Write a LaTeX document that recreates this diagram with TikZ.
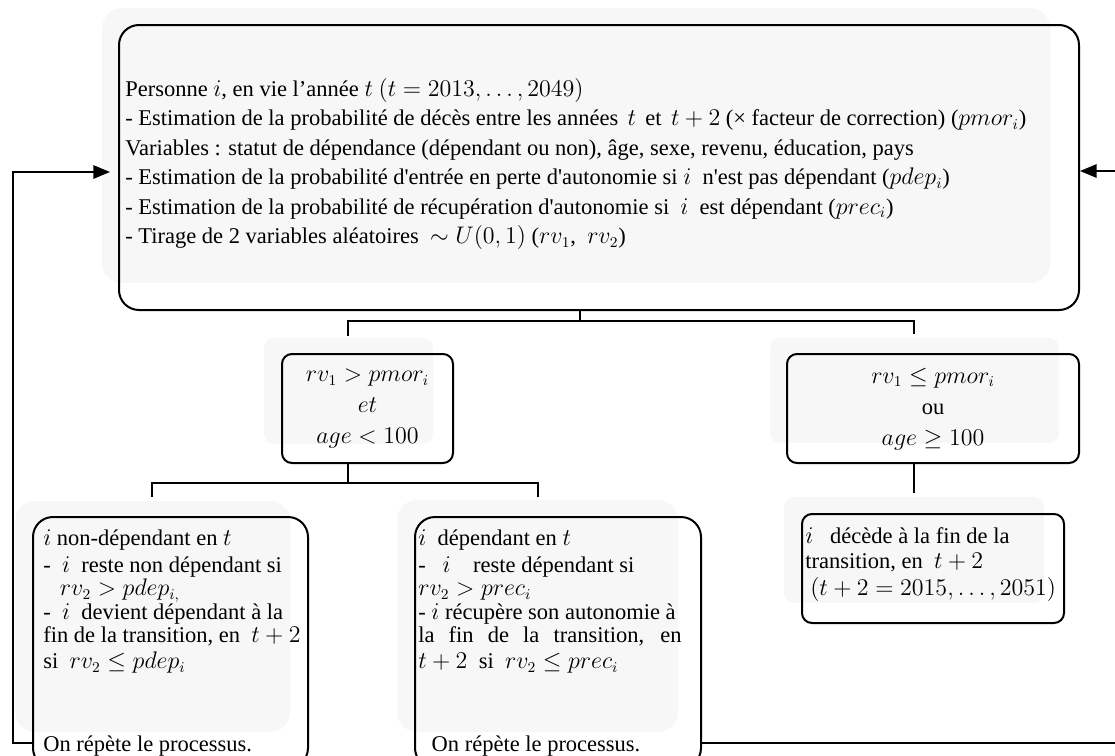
\documentclass[tikz,border=0pt]{standalone}
\usepackage{amssymb}
\usepackage{amsmath}
\usepackage{fontspec}
\setmainfont{Liberation Serif}
\usetikzlibrary{positioning,arrows.meta,fit}

\newcommand{\noskip}{\setlength{\lineskiplimit}{-20pt}}
\newcommand{\sq}{\textquotesingle}
\tikzset{
  box/.style={draw=black,line width=1.2pt,rounded corners=12pt,inner sep=0pt},
  smallbox/.style={box,rounded corners=6pt},
  ghost/.style={fill=black!3,rounded corners=12pt},
  txt/.style={inner sep=0pt,align=left,font=\fontsize{13.5}{15.5}\selectfont\noskip},
  tight/.style={txt,font=\fontsize{13.5}{14}\selectfont\noskip},
  conn/.style={line width=1.2pt},
  back/.style={conn,-{Triangle[length=10pt,width=8pt]}},
}

\begin{document}
\begin{tikzpicture}[x=0.6pt,y=-0.6pt]
\useasboundingbox (0,0) rectangle (1115,756);
% grey shadows
\fill[ghost] (102,8) rectangle (1050,283);
\fill[ghost,rounded corners=6pt] (264,338) rectangle (433,444);
\fill[ghost,rounded corners=6pt] (770,338) rectangle (1059,443);
\fill[ghost] (15,501) rectangle (290,732);
\fill[ghost] (397,500) rectangle (678,732);
\fill[ghost,rounded corners=6pt] (784,497) rectangle (1044,603);
% boxes
\node[box,fit={(119,25) (1079,310)}] (main) {};
\node[smallbox,fit={(282,354) (453,463)}] (condA) {};
\node[smallbox,fit={(787,354) (1079,463)}] (condB) {};
\node[box,fit={(33,517) (308,768)}] (nodep) {};
\node[box,fit={(415,517) (701,768)}] (dep) {};
\node[smallbox,fit={(802,514) (1064,623)}] (deces) {};
% texts
\node[txt,anchor=north west] (maintxt) at (125,78) {%
Personne $i$, en vie l’année $t$ $(t=2013,\dots,2049)$\\[2.2pt]
- Estimation de la probabilité de décès entre les années \,$t$\, et \,$t+2$ (× facteur de correction) ($pmor_i$)\\[2.2pt]
Variables : statut de dépendance (dépendant ou non), âge, sexe, revenu, éducation, pays\\[2.2pt]
- Estimation de la probabilité d\sq entrée en perte d\sq autonomie si $i$ \ n\sq est pas dépendant ($pdep_i$)\\[2.2pt]
- Estimation de la probabilité de récupération d\sq autonomie si \ $i$ \ est dépendant ($prec_i$)\\[2.2pt]
- Tirage de 2 variables aléatoires \ $\sim U(0,1)$ ($rv_1$, \ $rv_2$)};
\node[txt,align=center] (condAtxt) at (367.5,409) {%
$rv_1 > pmor_i$\\[3.1pt] $et$\\[3.1pt] $age < 100$};
\node[txt,align=center] (condBtxt) at (933,409) {%
$rv_1 \le pmor_i$\\[3.1pt] ou\\[3.1pt] $age \ge 100$};
\node[tight,anchor=north west] (nodeptxt) at (43,529) {%
$i$ non-dépendant en $t$\\[2.2pt]
- \ $i$ \ reste non dépendant si\\
\hspace*{10pt}$rv_2 > pdep_{i,}$\\[0.5pt]
- \ $i$ \ devient dépendant à la\\
fin de la transition, en \ $t+2$\\[1.5pt]
si \ $rv_2 \le pdep_i$\\[35.5pt]
On répète le processus.};
\node[tight,anchor=north west] (deptxt) at (418,529) {%
$i$ \ dépendant en $t$\\[2.2pt]
- \ \ $i$ \ \ \ reste dépendant si\\
$rv_2 > prec_i$\\[0.5pt]
- $i$ récupère son autonomie à\\
\makebox[158pt][s]{la fin de la transition, en}\\[1.5pt]
$t+2$ \ si \ $rv_2 \le prec_i$\\[35.5pt]
\hspace*{8pt}On répète le processus.};
\node[tight,anchor=north west] (decestxt) at (805,527) {%
$i$ \ \ décède à la fin de la\\[1pt]
transition, en \ $t+2$\\[2.2pt]
\hspace*{3pt}$(t+2=2015,\dots,2051)$};
% connectors
\coordinate (top) at (580,321);
\coordinate (ja) at (348,336);
\coordinate (jb) at (914,334);
\draw[conn] (main.south -| top) -- (top);
\draw[conn] (ja) |- (top) -| (jb);
\coordinate (split) at (348,483);
\coordinate (jc) at (152,497);
\coordinate (jd) at (538,497);
\draw[conn] (condA.south -| split) -- (split);
\draw[conn] (jc) |- (split) -| (jd);
\coordinate (je) at (914,493);
\draw[conn] (condB.south -| je) -- (je);
% loops back to the top box
\coordinate (lc) at (13,743);
\coordinate (la) at (110,172);
\draw[back] (nodep.west |- lc) -- (lc) |- (la);
\coordinate (rc) at (1118,743);
\coordinate (ra) at (1118,171);
\draw[back] (dep.east |- rc) -- (rc) -- (ra) -- (main.east |- ra);
\end{tikzpicture}
\end{document}
